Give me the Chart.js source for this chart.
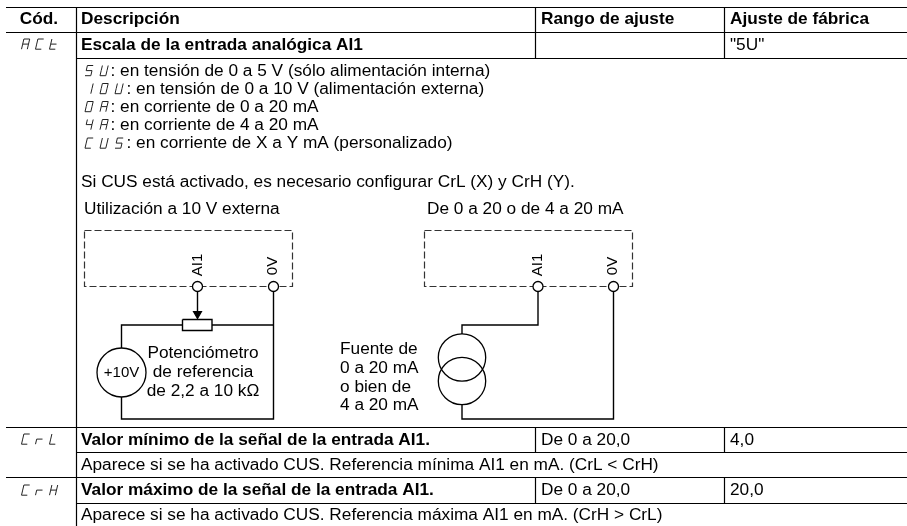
<!DOCTYPE html>
<html lang="es">
<head>
<meta charset="utf-8">
<title>Escala de la entrada analógica AI1</title>
<script src="https://cdn.jsdelivr.net/npm/chart.js@4"></script>
<style>
  html, body { margin: 0; padding: 0; background: #fff; }
  canvas { display: block; }
</style>
</head>
<body>
<canvas id="tabla" width="907" height="526"></canvas>
<script>
// Textos de la tabla
const cabeceras = ["Cód.", "Descripción", "Rango de ajuste", "Ajuste de fábrica"];
const titulosFila = ["Escala de la entrada analógica AI1", "Valor mínimo de la señal de la entrada AI1.", "Valor máximo de la señal de la entrada AI1."];
const ajustesFabrica = ["\"5U\"", "4,0", "20,0"];
const rangos = ["De 0 a 20,0", "De 0 a 20,0"];
const opciones = [
  ": en tensión de 0 a 5 V (sólo alimentación interna)",
  ": en tensión de 0 a 10 V (alimentación externa)",
  ": en corriente de 0 a 20 mA",
  ": en corriente de 4 a 20 mA",
  ": en corriente de X a Y mA (personalizado)"
];
const notas = [
  "Si CUS está activado, es necesario configurar CrL (X) y CrH (Y).",
  "Aparece si se ha activado CUS. Referencia mínima AI1 en mA. (CrL < CrH)",
  "Aparece si se ha activado CUS. Referencia máxima AI1 en mA. (CrH > CrL)"
];
const titulosEsquema = ["Utilización a 10 V externa", "De 0 a 20 o de 4 a 20 mA"];
const rotuloPotenciometro = ["Potenciómetro", "de referencia", "de 2,2 a 10 kΩ"];
const rotuloFuente = ["Fuente de", "0 a 20 mA", "o bien de", "4 a 20 mA"];
const codigos = ["ACt", "CrL", "CrH"];
const codigosOpcion = ["5U", "10U", "0A", "4A", "CU5"];

// Retícula de la tabla (en píxeles de la página)
const columnas = [6, 76.5, 535.5, 724.5, 907];
const filas = [7.5, 32.5, 58.5, 427.5, 452.5, 477.5, 503.5, 526];

// Trazos del esquema
const terminalesY = 286.5;
const terminalesIzq = [197.5, 273.5];
const terminalesDer = [538, 613.5];
const cajaIzq = [84.5, 230.5, 292.5, 286.5];
const cajaDer = [424.5, 230.5, 632.5, 286.5];
const bucleY = [325, 419];
const fuente10V = [121.5, 372.5];
const fuenteCorriente = [[462, 357.5], [462, 381]];

// Segmentos de los dígitos de 7 segmentos
const segmentos = {
  a: [[0, 0], [1, 0]], b: [[1, 0], [1, 1]], c: [[1, 1], [1, 2]], d: [[0, 2], [1, 2]],
  e: [[0, 1], [0, 2]], f: [[0, 0], [0, 1]], g: [[0, 1], [1, 1]]
};
const glifos = {
  A: "abcefg", C: "adef", t: "defg", r: "eg", L: "def", H: "bcefg",
  "5": "acdfg", U: "bcdef", "1": "bc", "0": "abcdef", "4": "bcfg"
};

function corte(puntos) {
  return puntos.concat([{ x: null, y: null }]);
}

function segmento(x1, y1, x2, y2) {
  return corte([{ x: x1, y: y1 }, { x: x2, y: y2 }]);
}

function rectangulo(c) {
  return corte([
    { x: c[0], y: c[1] }, { x: c[2], y: c[1] }, { x: c[2], y: c[3] },
    { x: c[0], y: c[3] }, { x: c[0], y: c[1] }
  ]);
}

// Reglas horizontales y verticales de la tabla
const reglas = [].concat(
  segmento(columnas[0], filas[0], columnas[4], filas[0]),
  segmento(columnas[0], filas[1], columnas[4], filas[1]),
  segmento(columnas[1], filas[2], columnas[4], filas[2]),
  segmento(columnas[0], filas[3], columnas[4], filas[3]),
  segmento(columnas[1], filas[4], columnas[4], filas[4]),
  segmento(columnas[0], filas[5], columnas[4], filas[5]),
  segmento(columnas[1], filas[6], columnas[4], filas[6]),
  segmento(columnas[1], filas[0], columnas[1], filas[7]),
  segmento(columnas[2], filas[0], columnas[2], filas[2]),
  segmento(columnas[3], filas[0], columnas[3], filas[2]),
  segmento(columnas[2], filas[3], columnas[2], filas[4]),
  segmento(columnas[3], filas[3], columnas[3], filas[4]),
  segmento(columnas[2], filas[5], columnas[2], filas[6]),
  segmento(columnas[3], filas[5], columnas[3], filas[6])
);

// Cableado de los dos esquemas
const cables = [].concat(
  segmento(terminalesIzq[0], terminalesY + 5, terminalesIzq[0], 316),
  corte([
    { x: 182.5, y: bucleY[0] }, { x: fuente10V[0], y: bucleY[0] }, { x: fuente10V[0], y: 348 }
  ]),
  segmento(212, bucleY[0], terminalesIzq[1], bucleY[0]),
  corte([
    { x: fuente10V[0], y: 397 }, { x: fuente10V[0], y: bucleY[1] },
    { x: terminalesIzq[1], y: bucleY[1] }, { x: terminalesIzq[1], y: terminalesY + 5 }
  ]),
  rectangulo([182.5, 319.5, 212, 330.5]),
  corte([
    { x: terminalesDer[0], y: terminalesY + 5 }, { x: terminalesDer[0], y: bucleY[0] },
    { x: fuenteCorriente[0][0], y: bucleY[0] }, { x: fuenteCorriente[0][0], y: 334 }
  ]),
  corte([
    { x: fuenteCorriente[1][0], y: 405 }, { x: fuenteCorriente[1][0], y: bucleY[1] },
    { x: terminalesDer[1], y: bucleY[1] }, { x: terminalesDer[1], y: terminalesY + 5 }
  ])
);

// Dibuja un código de display como trazos inclinados
function trazosCodigo(codigo, x, y, paso) {
  const ancho = 5.8, alto = 5.1, incl = 2.4;
  let puntos = [];
  codigo.split("").forEach((c, i) => {
    glifos[c].split("").forEach(s => {
      const [p, q] = segmentos[s];
      const px = v => x + i * paso + v[0] * ancho + (2 - v[1]) * incl / 2;
      const py = v => y + v[1] * alto;
      puntos = puntos.concat(segmento(px(p), py(p), px(q), py(q)));
    });
  });
  return puntos;
}

const trazosDisplay = [].concat(
  trazosCodigo(codigos[0], 21.5, 39, 14),
  trazosCodigo(codigos[1], 21.5, 434, 14),
  trazosCodigo(codigos[2], 21.5, 485, 14),
  trazosCodigo(codigosOpcion[0], 85, 65.5, 15),
  // el "1" va alineado a la derecha de su casilla
  trazosCodigo(codigosOpcion[1], 85, 83.5, 15),
  trazosCodigo(codigosOpcion[2], 85, 101.5, 15),
  trazosCodigo(codigosOpcion[3], 85, 119.5, 15),
  trazosCodigo(codigosOpcion[4], 85, 138, 15)
);

// Todos los textos que se pintan sobre el canvas
const CUERPO = '17.25px "Liberation Sans"';
const NEGRITA = 'bold 17.25px "Liberation Sans"';
const ROTADO = '15px "Liberation Sans"';
const textos = [];
function texto(t, x, y, fuente, extra) {
  textos.push(Object.assign({ t, x, y, fuente: fuente || CUERPO }, extra));
}
texto(cabeceras[0], 39, 19, NEGRITA, { align: "center" });
texto(cabeceras[1], 81, 19, NEGRITA);
texto(cabeceras[2], 541, 19, NEGRITA);
texto(cabeceras[3], 730, 19, NEGRITA);
texto(titulosFila[0], 81, 45, NEGRITA);
texto(ajustesFabrica[0], 730, 45);
texto(opciones[0], 110.5, 71);
texto(opciones[1], 126.5, 89);
texto(opciones[2], 110.5, 107);
texto(opciones[3], 110.5, 125);
texto(opciones[4], 126.5, 143.5);
texto(notas[0], 81, 182);
texto(titulosEsquema[0], 84, 209.5);
texto(titulosEsquema[1], 427, 209.5);
rotuloPotenciometro.forEach((t, i) => texto(t, 203, 353.5 + i * 18.7, null, { align: "center" }));
rotuloFuente.forEach((t, i) => texto(t, 340, 349.5 + i * 18.7));
texto("+10V", fuente10V[0], fuente10V[1], ROTADO, { align: "center" });
texto("AI1", terminalesIzq[0] + 0.5, 265, ROTADO, { rot: true });
texto("0V", terminalesIzq[1] - 0.5, 266, ROTADO, { rot: true });
texto("AI1", terminalesDer[0] - 0.5, 265, ROTADO, { rot: true });
texto("0V", terminalesDer[1] - 0.5, 266, ROTADO, { rot: true });
texto(titulosFila[1], 81, 440, NEGRITA);
texto(rangos[0], 541, 440);
texto(ajustesFabrica[1], 730, 440);
texto(notas[1], 81, 465);
texto(titulosFila[2], 81, 490.5, NEGRITA);
texto(rangos[1], 541, 490.5);
texto(ajustesFabrica[2], 730, 490.5);
texto(notas[2], 81, 515.5);

const pluginTextos = {
  id: "textos",
  afterDatasetsDraw(chart) {
    const { ctx, scales } = chart;
    ctx.save();
    ctx.fillStyle = "#000";
    ctx.textBaseline = "middle";
    textos.forEach(d => {
      const x = scales.x.getPixelForValue(d.x);
      const y = scales.y.getPixelForValue(d.y);
      ctx.font = d.fuente;
      ctx.textAlign = d.align || "left";
      if (d.rot) {
        ctx.save();
        ctx.translate(x, y);
        ctx.rotate(-Math.PI / 2);
        ctx.textAlign = "center";
        ctx.fillText(d.t, 0, 0);
        ctx.restore();
      } else {
        ctx.fillText(d.t, x, y);
      }
    });
    ctx.restore();
  }
};

function linea(datos, extra) {
  return Object.assign({
    data: datos, showLine: true, pointRadius: 0, borderColor: "#000",
    borderWidth: 1, spanGaps: false, fill: false, tension: 0
  }, extra);
}

function marca(datos, radio, extra) {
  return Object.assign({
    data: datos, showLine: false, pointRadius: radio, pointBorderWidth: 1.3,
    pointBorderColor: "#000", pointBackgroundColor: "rgba(0,0,0,0)"
  }, extra);
}

new Chart(document.getElementById("tabla"), {
  type: "scatter",
  data: {
    datasets: [
      // los primeros se pintan encima
      marca(terminalesIzq.concat(terminalesDer).map(x => ({ x, y: terminalesY })), 5, { pointBackgroundColor: "#fff" }),
      marca([{ x: terminalesIzq[0], y: 314 }], 4.5, { pointStyle: "triangle", rotation: 180, pointBackgroundColor: "#000" }),
      marca([{ x: fuente10V[0], y: fuente10V[1] }], 24.5),
      marca(fuenteCorriente.map(c => ({ x: c[0], y: c[1] })), 23.7),
      linea(cables, { borderWidth: 1.4 }),
      linea(reglas, { borderWidth: 1.2 }),
      linea(trazosDisplay, { borderColor: "#222", borderWidth: 1 }),
      linea(rectangulo(cajaIzq), { borderColor: "#333", borderWidth: 1.2, borderDash: [7, 3] }),
      linea(rectangulo(cajaDer), { borderColor: "#333", borderWidth: 1.2, borderDash: [7, 3] })
    ]
  },
  options: {
    responsive: false,
    animation: false,
    layout: { padding: 0, autoPadding: false },
    plugins: { legend: { display: false }, tooltip: { enabled: false }, title: { display: false } },
    scales: {
      x: { type: "linear", min: 0, max: 907, display: false },
      y: { type: "linear", min: 0, max: 526, reverse: true, display: false }
    }
  },
  plugins: [pluginTextos]
});
</script>
</body>
</html>
